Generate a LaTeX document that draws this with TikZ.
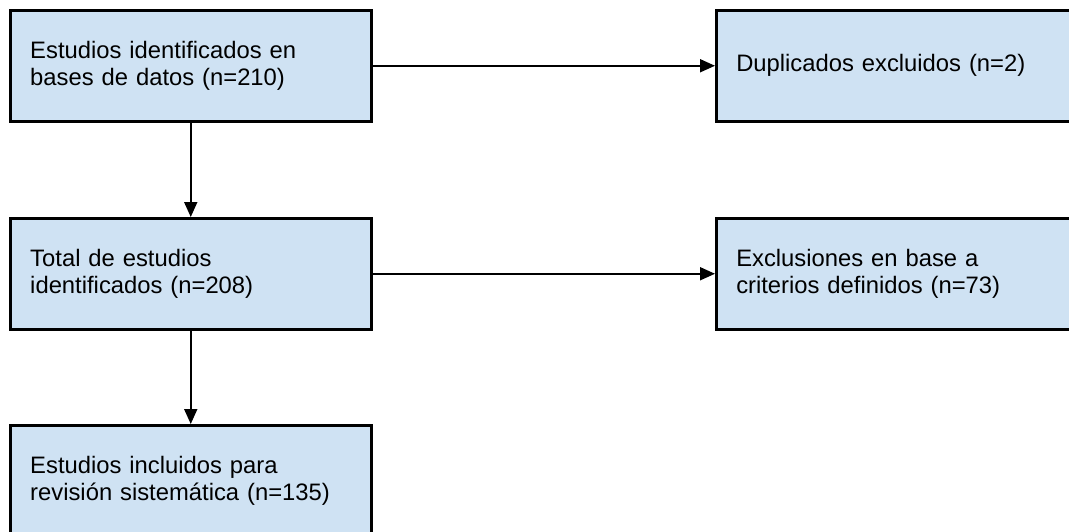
\documentclass[tikz,border=0pt]{standalone}
\usepackage{fontspec}
\setmainfont{Liberation Sans}
\usetikzlibrary{arrows.meta}
\definecolor{boxfill}{HTML}{CFE2F3}
\tikzset{
  flowbox/.style={draw=black, line width=2.5pt, fill=boxfill, rectangle, anchor=north west,
    minimum width=361pt, minimum height=111pt, text width=321pt, inner xsep=19.5pt, inner ysep=0pt,
    align=left, font=\fontsize{23.8}{27.5}\selectfont},
  link/.style={line width=1.8pt, -{Triangle[length=15pt,width=13pt]}}
}
\begin{document}
\begin{tikzpicture}[x=1pt,y=-1pt]
\useasboundingbox (0,0) rectangle (1069,531);
\clip (0,0) rectangle (1069,531);
\node[flowbox] (a) at (9,9) {Estudios identificados en\\bases de datos (n=210)};
\node[flowbox] (b) at (715,9) {Duplicados excluidos (n=2)};
\node[flowbox] (c) at (9,217) {Total de estudios\\identificados (n=208)};
\node[flowbox] (d) at (715,217) {Exclusiones en base a\\criterios definidos (n=73)};
\node[flowbox] (e) at (9,424) {Estudios incluidos para\\revisión sistemática (n=135)};
\draw[link] (a.east) -- (b.west);
\draw[link] (a.south) -- (c.north);
\draw[link] (c.east) -- (d.west);
\draw[link] (c.south) -- (e.north);
\end{tikzpicture}
\end{document}
